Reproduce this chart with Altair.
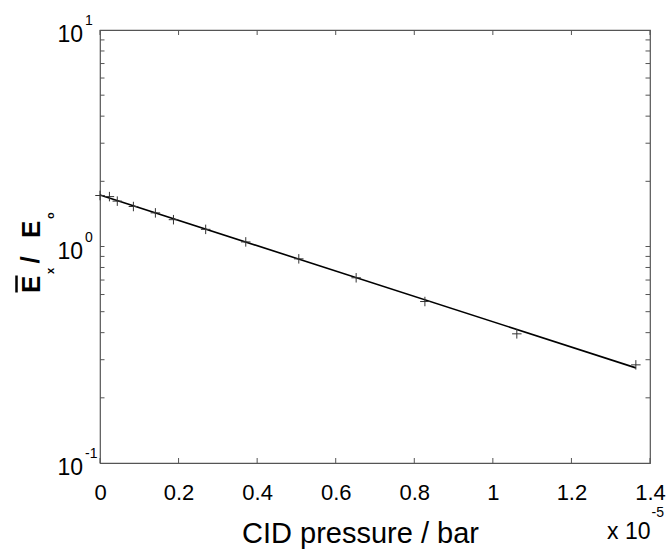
import altair as alt
import pandas as pd

# CID pressure in units of 1e-5 bar, normalised energy
pressure = [0.0, 0.024, 0.044, 0.085, 0.141, 0.187, 0.269, 0.371, 0.506, 0.652, 0.827, 1.061, 1.364]
energy = [1.72, 1.70, 1.62, 1.53, 1.43, 1.33, 1.20, 1.05, 0.877, 0.717, 0.557, 0.395, 0.284]

fit_pressure = [0.0, 1.364]
fit_energy = [1.73, 0.275]

x_ticks = [0, 0.2, 0.4, 0.6, 0.8, 1.0, 1.2, 1.4]
y_major = [0.1, 1, 10]
y_exponents = ["-1", "0", "1"]
y_minor = [0.2, 0.3, 0.4, 0.5, 0.6, 0.7, 0.8, 0.9, 1, 2, 3, 4, 5, 6, 7, 8, 9]

W, H = 550, 433
FONT = "Liberation Sans"
TICK = "#555555"

pts = pd.DataFrame({"p": pressure, "e": energy})
fit = pd.DataFrame({"p": fit_pressure, "e": fit_energy})
xt = pd.DataFrame({"p": x_ticks})
ym = pd.DataFrame({"e": y_major, "exp": y_exponents})
yn = pd.DataFrame({"e": y_minor})

xs = alt.Scale(domain=[0, 1.4], nice=False, zero=False)
ys = alt.Scale(type="log", domain=[0.1, 10], nice=False)

xaxis = alt.Axis(values=x_ticks, format=".1~f", ticks=False, domain=False, grid=False,
                 labelFont=FONT, labelFontSize=22, labelColor="black", labelPadding=19,
                 labelFlush=False, labelOverlap=False,
                 title="CID pressure / bar", titleFont=FONT, titleFontSize=29,
                 titleFontWeight="normal", titleColor="black", titleX=260, titleY=79,
                 titleAlign="center", titleBaseline="alphabetic")
yaxis = alt.Axis(labels=False, ticks=False, domain=False, grid=False, title=None)

line = alt.Chart(fit).mark_line(color="black", strokeWidth=1.6).encode(
    x=alt.X("p:Q", scale=xs, axis=xaxis),
    y=alt.Y("e:Q", scale=ys, axis=yaxis),
)

cross = "M -1 0 L 1 0 M 0 -1 L 0 1"
points = alt.Chart(pts).mark_point(shape=cross, size=90, filled=False, color="#333333",
                                   strokeWidth=1, opacity=1).encode(
    x=alt.X("p:Q", scale=xs), y=alt.Y("e:Q", scale=ys))

xt_bottom = alt.Chart(xt).mark_rule(color=TICK, strokeWidth=1).encode(
    x=alt.X("p:Q", scale=xs), y=alt.value(H), y2=alt.value(H - 5))
xt_top = alt.Chart(xt).mark_rule(color=TICK, strokeWidth=1).encode(
    x=alt.X("p:Q", scale=xs), y=alt.value(0), y2=alt.value(5))
yt_left = alt.Chart(yn).mark_rule(color=TICK, strokeWidth=1).encode(
    y=alt.Y("e:Q", scale=ys), x=alt.value(0), x2=alt.value(4.5))
yt_right = alt.Chart(yn).mark_rule(color=TICK, strokeWidth=1).encode(
    y=alt.Y("e:Q", scale=ys), x=alt.value(W), x2=alt.value(W - 4.5))

ylab = alt.Chart(ym).mark_text(text="10", font=FONT, fontSize=23, align="right",
                               baseline="alphabetic", dy=12, color="black").encode(
    y=alt.Y("e:Q", scale=ys), x=alt.value(-17))
yexp = alt.Chart(ym).mark_text(font=FONT, fontSize=14, align="left",
                               baseline="alphabetic", dy=-5, color="black").encode(
    y=alt.Y("e:Q", scale=ys), x=alt.value(-15), text="exp:N")

# x scale multiplier annotation
mult = alt.Chart(pd.DataFrame({"t": ["x 10"]})).mark_text(
    font=FONT, fontSize=23, align="right", baseline="alphabetic", color="black").encode(
    x=alt.value(550.5), y=alt.value(508.5), text="t:N")
mult_exp = alt.Chart(pd.DataFrame({"t": ["-5"]})).mark_text(
    font=FONT, fontSize=14, align="left", baseline="alphabetic", color="black").encode(
    x=alt.value(551.5), y=alt.value(486.5), text="t:N")

# y title: E-bar_x / E_o (rotated)
def ytxt(t, x, y, size):
    return alt.Chart(pd.DataFrame({"t": [t]})).mark_text(
        font=FONT, fontSize=size, fontWeight="bold", angle=270, align="left",
        baseline="alphabetic", color="black").encode(
        x=alt.value(x), y=alt.value(y), text="t:N")

t1 = ytxt("E", -60, 263, 26)
t2 = ytxt("x", -46.5, 244, 11)
t3 = ytxt("/", -61, 233.5, 26)
t4 = ytxt("E", -60, 208, 26)
t5 = ytxt("o", -46.5, 189, 11)
bar = alt.Chart(pd.DataFrame({"a": [0]})).mark_rule(color="black", strokeWidth=2.5).encode(
    x=alt.value(-83.5), y=alt.value(245.5), y2=alt.value(262.5))

chart = alt.layer(line, points, xt_bottom, xt_top, yt_left, yt_right, ylab, yexp,
                  mult, mult_exp, t1, t2, bar, t3, t4, t5).properties(
    width=W, height=H,
    padding={"left": 100, "top": 30, "right": 19, "bottom": 88},
    autosize=alt.AutoSizeParams(type="none"),
    background="white",
).configure_view(stroke=TICK, strokeWidth=1.2)

chart.save("out.html", embed_options={"renderer": "svg", "actions": False})
